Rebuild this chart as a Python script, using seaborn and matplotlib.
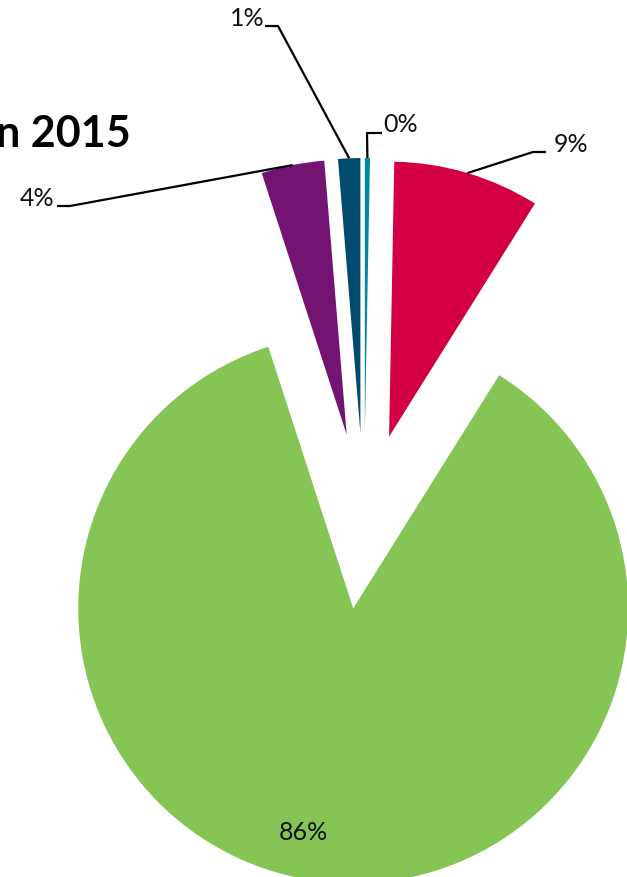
import matplotlib.pyplot as plt
import numpy as np
import seaborn as sns

# slice values, clockwise from 12 o'clock (percent of total)
slice_names = ["teal", "red", "green", "purple", "dark blue"]
shares = [0.3, 8.6, 86.1, 3.7, 1.3]
slice_colors = ["#00889C", "#D20042", "#84C556", "#731472", "#004B6E"]
title_text = "in 2015"

H = 877


def px(y):
    # pixel row -> data y (axes spans the whole figure, y up)
    return H - y


sns.set_theme(style="white")
plt.rcParams["font.family"] = ["Lato", "DejaVu Sans"]

fig = plt.figure(figsize=(6.27, 8.77), dpi=100)
ax = fig.add_axes([0, 0, 1, 1])

# explode is in data units here (1 unit = 1 px)
wedges, _ = ax.pie(shares, colors=slice_colors, startangle=90, counterclock=False,
                   explode=[88] * len(shares), radius=275, center=(364, px(521)),
                   wedgeprops=dict(linewidth=0), frame=True)
ax.set_xlim(0, 627)
ax.set_ylim(0, H)
ax.set_aspect("equal")
ax.axis("off")

pct_labels = [f"{round(v):.0f}%" for v in shares]

# outside labels: text centre, then the two points of the leader line next to the text
outside = {
    0: ((401, 125), [(382, 133), (367, 133)]),
    1: ((571, 145), [(546, 152), (533, 152)]),
    3: ((37, 198), [(57, 206), (70, 206)]),
    4: ((247, 18), [(265, 26), (278, 26)]),
}

for i, w in enumerate(wedges):
    mid = np.deg2rad((w.theta1 + w.theta2) / 2)
    cx, cy = w.center
    arc = (cx + w.r * np.cos(mid), cy + w.r * np.sin(mid))
    if i in outside:
        (tx, ty), pts = outside[i]
        xs = [p[0] for p in pts] + [arc[0]]
        ys = [px(p[1]) for p in pts] + [arc[1]]
        ax.plot(xs, ys, color="black", lw=1.6, solid_capstyle="butt")
        ax.text(tx, px(ty), pct_labels[i], ha="center", va="center", fontsize=18, color="#111111")
    else:
        ax.text(303, px(832), pct_labels[i], ha="center", va="center", fontsize=18, color="#111111")

ax.text(131, px(147), title_text, ha="right", va="baseline", fontsize=31,
        fontweight="bold", color="black")

fig.savefig("out.png", dpi=100)
